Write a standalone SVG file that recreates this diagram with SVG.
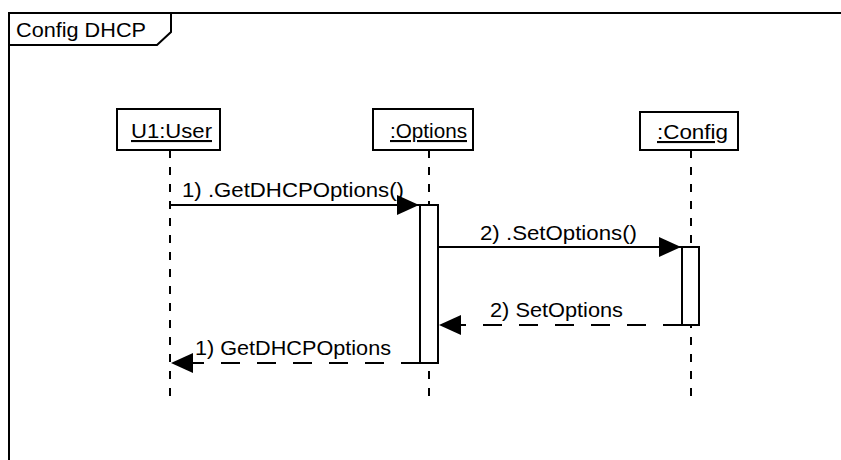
<svg xmlns="http://www.w3.org/2000/svg" width="841" height="460" viewBox="0 0 841 460">
<style>
  .frame{fill:none;stroke:#000;stroke-width:2}
  .box{fill:#fff;stroke:#000;stroke-width:2}
  .life{fill:none;stroke:#000;stroke-width:2;stroke-dasharray:8 9}
  .act{fill:#fff;stroke:#000;stroke-width:2}
  .msg{fill:none;stroke:#000;stroke-width:2}
  .ret{fill:none;stroke:#000;stroke-width:2;stroke-dasharray:19 17}
  text{font-family:"Liberation Sans",Arial,sans-serif;font-size:21px;fill:#000}
  .name{text-decoration:underline}
</style>
<defs>
  <marker id="arrow" markerUnits="userSpaceOnUse" markerWidth="22" markerHeight="20" refX="22" refY="10" orient="auto">
    <path d="M0,0 L22,10 L0,20 z" fill="#000"/>
  </marker>
</defs>
<rect width="841" height="460" fill="#fff"/>
<g id="frame">
  <path class="frame" d="M9,460 V13 H841"/>
  <path class="frame" d="M9,13 H171 V32 L157,45 H9"/>
  <text x="16" y="37" textLength="130" lengthAdjust="spacingAndGlyphs">Config DHCP</text>
</g>
<g id="lifelines">
  <line class="life" x1="170" y1="150" x2="170" y2="400"/>
  <line class="life" x1="429" y1="150" x2="429" y2="400"/>
  <line class="life" x1="691" y1="150" x2="691" y2="400"/>
</g>
<g id="user">
  <rect class="box" x="117" y="109" width="103" height="41"/>
  <text class="name" x="131" y="138" textLength="81" lengthAdjust="spacingAndGlyphs">U1:User</text>
</g>
<g id="options">
  <rect class="box" x="373" y="109" width="100" height="41"/>
  <text class="name" x="390" y="138" textLength="77" lengthAdjust="spacingAndGlyphs">:Options</text>
  <rect class="act" x="420" y="205" width="18" height="158"/>
</g>
<g id="config">
  <rect class="box" x="640" y="112" width="98" height="38"/>
  <text class="name" x="657" y="139" textLength="71" lengthAdjust="spacingAndGlyphs">:Config</text>
  <rect class="act" x="682" y="247" width="17" height="78"/>
</g>
<g id="connectors">
  <line class="msg" x1="170" y1="205" x2="419" y2="205" marker-end="url(#arrow)"/>
  <text x="182" y="197" textLength="222" lengthAdjust="spacingAndGlyphs">1) .GetDHCPOptions()</text>
  <line class="msg" x1="438" y1="247" x2="681" y2="247" marker-end="url(#arrow)"/>
  <text x="480" y="240" textLength="157" lengthAdjust="spacingAndGlyphs">2) .SetOptions()</text>
  <line class="ret" x1="682" y1="325" x2="439" y2="325" marker-end="url(#arrow)"/>
  <text x="490" y="317" textLength="133" lengthAdjust="spacingAndGlyphs">2) SetOptions</text>
  <line class="ret" x1="420" y1="363" x2="171" y2="363" marker-end="url(#arrow)"/>
  <text x="195" y="355" textLength="196" lengthAdjust="spacingAndGlyphs">1) GetDHCPOptions</text>
</g>
</svg>
